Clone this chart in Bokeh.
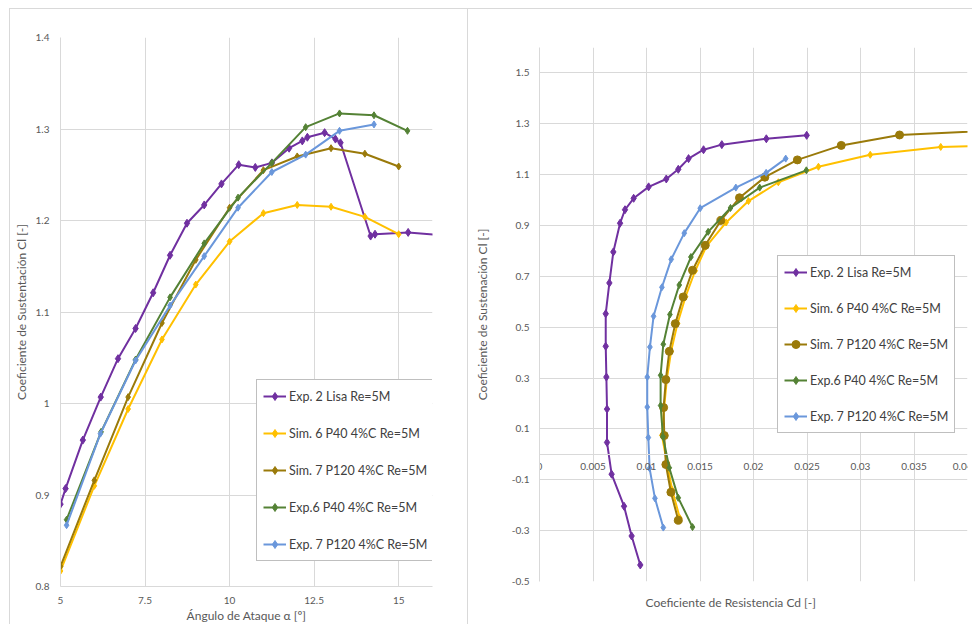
from bokeh.plotting import figure
from bokeh.layouts import row
from bokeh.models import Range1d, FixedTicker, Legend, LegendItem, CustomJSTickFormatter, Title
from bokeh.embed import file_html
from bokeh.resources import INLINE

# ---------------- data ----------------
labels = ["Exp. 2 Lisa Re=5M", "Sim. 6 P40 4%C Re=5M", "Sim. 7 P120 4%C Re=5M",
          "Exp.6 P40 4%C Re=5M", "Exp. 7 P120 4%C Re=5M"]
colors = ["#7030A0", "#FFC000", "#9A7A0A", "#548235", "#6A97DB"]

# Left chart: Cl vs angle of attack
alpha_exp2 = [5.0, 5.15, 5.66, 6.19, 6.70, 7.22, 7.74, 8.24, 8.74, 9.25, 9.76, 10.27, 10.76,
              11.25, 11.76, 12.15, 12.30, 12.81, 13.13, 13.28, 14.17, 14.30, 15.28, 16.27]
cl_exp2 = [0.890, 0.907, 0.960, 1.007, 1.049, 1.082, 1.121, 1.162, 1.197, 1.217, 1.240, 1.261,
           1.258, 1.263, 1.279, 1.287, 1.291, 1.296, 1.289, 1.285, 1.183, 1.185, 1.187, 1.184]
alpha_sim6 = [5, 6, 7, 8, 9, 10, 11, 12, 13, 14, 15]
cl_sim6 = [0.817, 0.910, 0.994, 1.070, 1.130, 1.177, 1.208, 1.217, 1.215, 1.204, 1.185]
alpha_sim7 = [5, 6, 7, 8, 9, 10, 11, 12, 13, 14, 15]
cl_sim7 = [0.822, 0.916, 1.007, 1.088, 1.157, 1.214, 1.255, 1.270, 1.279, 1.273, 1.259]
alpha_exp6 = [5.18, 6.2, 7.22, 8.24, 9.25, 10.25, 11.25, 12.25, 13.25, 14.27, 15.26]
cl_exp6 = [0.873, 0.969, 1.048, 1.116, 1.175, 1.225, 1.263, 1.302, 1.317, 1.315, 1.298]
alpha_exp7 = [5.18, 6.18, 7.22, 8.24, 9.25, 10.25, 11.25, 12.25, 13.25, 14.27]
cl_exp7 = [0.867, 0.967, 1.047, 1.107, 1.161, 1.214, 1.253, 1.272, 1.298, 1.305]

# Right chart: Cl vs Cd (polar)
cd_exp2 = [0.00942, 0.00861, 0.00790, 0.00674, 0.00631, 0.00631, 0.00625, 0.00619, 0.00619,
           0.00653, 0.00690, 0.00753, 0.00799, 0.00880, 0.01020, 0.01185, 0.01297, 0.01393,
           0.01533, 0.01704, 0.02120, 0.02497]
clp_exp2 = [-0.435, -0.321, -0.204, -0.078, 0.047, 0.178, 0.304, 0.425, 0.553, 0.674, 0.796,
            0.909, 0.962, 1.007, 1.052, 1.083, 1.121, 1.163, 1.198, 1.218, 1.241, 1.2545]
cd_sim6 = [0.01312, 0.01240, 0.01190, 0.01144, 0.01165, 0.01190, 0.01230, 0.01290, 0.01365,
           0.01455, 0.01561, 0.01744, 0.01953, 0.02232, 0.02607, 0.03091, 0.03750, 0.0450]
clp_sim6 = [-0.251, -0.140, -0.030, 0.075, 0.185, 0.295, 0.405, 0.515, 0.620, 0.722, 0.819,
            0.912, 0.996, 1.070, 1.131, 1.178, 1.209, 1.217]
cd_sim7 = [0.01297, 0.01228, 0.01181, 0.01166, 0.01160, 0.01181, 0.01213, 0.01269, 0.01343,
           0.01430, 0.01549, 0.01695, 0.01869, 0.02106, 0.02410, 0.02820, 0.03365, 0.0450]
clp_sim7 = [-0.259, -0.149, -0.040, 0.074, 0.184, 0.294, 0.405, 0.514, 0.619, 0.724, 0.822,
            0.920, 1.009, 1.090, 1.158, 1.215, 1.256, 1.279]
cd_exp6 = [0.01430, 0.01297, 0.01213, 0.01154, 0.01132, 0.01132, 0.01157, 0.01219, 0.01306,
           0.01415, 0.01576, 0.01785, 0.02058, 0.02494]
clp_exp6 = [-0.286, -0.171, -0.053, 0.069, 0.192, 0.311, 0.433, 0.550, 0.666, 0.776, 0.875,
            0.969, 1.049, 1.117]
cd_exp7 = [0.01157, 0.01079, 0.01029, 0.01017, 0.01007, 0.01007, 0.01032, 0.01066, 0.01144,
           0.01231, 0.01353, 0.01502, 0.01835, 0.02118, 0.02301]
clp_exp7 = [-0.288, -0.173, -0.055, 0.066, 0.186, 0.304, 0.422, 0.543, 0.657, 0.767, 0.870,
            0.968, 1.049, 1.107, 1.163]

left_xticks = [5, 7.5, 10, 12.5, 15]
left_yticks = [0.8, 0.9, 1.0, 1.1, 1.2, 1.3, 1.4]
right_xticks = [0, 0.005, 0.01, 0.015, 0.02, 0.025, 0.03, 0.035, 0.04]
right_yticks = [-0.5, -0.3, -0.1, 0.1, 0.3, 0.5, 0.7, 0.9, 1.1, 1.3, 1.5]

# ---------------- style ----------------
FONT = "Lato"
TXT = "#595959"
GRID = "#d9d9d9"
fmt_code = "return parseFloat(tick.toFixed(4)).toString();"


def style(p, xticks, yticks):
    p.outline_line_color = None
    p.background_fill_color = "white"
    p.border_fill_color = "white"
    p.frame_align = False
    p.xaxis.ticker = FixedTicker(ticks=xticks)
    p.yaxis.ticker = FixedTicker(ticks=yticks)
    for ax in (p.xaxis, p.yaxis):
        ax.formatter = CustomJSTickFormatter(code=fmt_code)
        ax.major_tick_line_color = None
        ax.minor_tick_line_color = None
        ax.major_tick_in = 0
        ax.major_tick_out = 0
        ax.minor_tick_in = 0
        ax.minor_tick_out = 0
        ax.axis_line_color = GRID
        ax.major_label_text_font = FONT
        ax.major_label_text_font_size = "10px"
        ax.major_label_text_color = TXT
        ax.axis_label_text_font = FONT
        ax.axis_label_text_font_size = "12px"
        ax.axis_label_text_font_style = "normal"
        ax.axis_label_text_color = TXT
    p.xgrid.grid_line_color = GRID
    p.ygrid.grid_line_color = GRID


def make_legend(items, loc, spacing):
    lg = Legend(items=items, location=loc)
    lg.border_line_color = "#808080"
    lg.border_line_width = 1
    lg.background_fill_color = "white"
    lg.background_fill_alpha = 1
    lg.label_text_font = FONT
    lg.label_text_font_size = "12.5px"
    lg.label_text_color = "#404040"
    lg.glyph_width = 23
    lg.glyph_height = 20
    lg.label_height = 20
    lg.spacing = spacing
    lg.padding = 6
    lg.margin = 0
    lg.label_standoff = 3
    return lg


# ---------------- left figure ----------------
p1 = figure(width=458, height=616, x_range=Range1d(5, 16), y_range=Range1d(0.8, 1.4),
            output_backend="svg", toolbar_location=None,
            min_border_left=46, min_border_right=36, min_border_top=28, min_border_bottom=35)
style(p1, left_xticks, left_yticks)
p1.xaxis.axis_label = "Ángulo de Ataque α [º]"
p1.yaxis.axis_label = "Coeficiente de Sustentación Cl [-]"
p1.xaxis.major_label_standoff = 10
p1.xaxis.axis_label_standoff = 1
p1.yaxis.major_label_standoff = 11
p1.yaxis.axis_label_standoff = 4
p1.styles = {"margin-left": "9px", "margin-top": "8px",
             "border-top": "1px solid #d9d9d9", "border-left": "1px solid #d9d9d9"}

left_series = [(alpha_exp2, cl_exp2, 8), (alpha_sim6, cl_sim6, 7), (alpha_sim7, cl_sim7, 7),
               (alpha_exp6, cl_exp6, 7), (alpha_exp7, cl_exp7, 7)]
items1 = []
for (xs, ys, sz), c, lab in zip(left_series, colors, labels):
    l = p1.line(xs, ys, line_color=c, line_width=2)
    s = p1.scatter(xs, ys, marker="diamond", size=sz, fill_color=c, line_color=c)
    items1.append(LegendItem(label=lab, renderers=[l, s]))
p1.add_layout(make_legend(items1, (196, 25), 17))

# ---------------- right figure ----------------
p2 = figure(width=505, height=616, x_range=Range1d(0, 0.04), y_range=Range1d(-0.5, 1.6),
            output_backend="svg", toolbar_location=None,
            min_border_left=71, min_border_right=6, min_border_top=38, min_border_bottom=44)
style(p2, right_xticks, right_yticks)
p2.xaxis.fixed_location = 0
p2.xaxis.major_label_standoff = 9
p2.yaxis.axis_label = "Coeficiente de Sustenación Cl [-]"
p2.yaxis.major_label_standoff = 10
p2.yaxis.axis_label_standoff = 19
p2.styles = {"margin-top": "8px",
             "border-left": "1px solid #d9d9d9", "border-top": "1px solid #d9d9d9"}
p2.add_layout(Title(text="Coeficiente de Resistencia Cd  [-]", align="left", offset=106,
                    standoff=23, text_font=FONT, text_font_size="12px",
                    text_font_style="normal", text_color=TXT), "below")

right_series = [(cd_exp2, clp_exp2, "diamond", 8), (cd_sim6, clp_sim6, "diamond", 7),
                (cd_sim7, clp_sim7, "circle", 8), (cd_exp6, clp_exp6, "diamond", 7),
                (cd_exp7, clp_exp7, "diamond", 7)]
items2 = []
for (xs, ys, mk, sz), c, lab in zip(right_series, colors, labels):
    l = p2.line(xs, ys, line_color=c, line_width=2)
    s = p2.scatter(xs, ys, marker=mk, size=sz, fill_color=c, line_color=c)
    items2.append(LegendItem(label=lab, renderers=[l, s]))
p2.add_layout(make_legend(items2, (238, 148), 16))

layout = row(p1, p2)
open("out.html", "w").write(file_html(layout, INLINE))
